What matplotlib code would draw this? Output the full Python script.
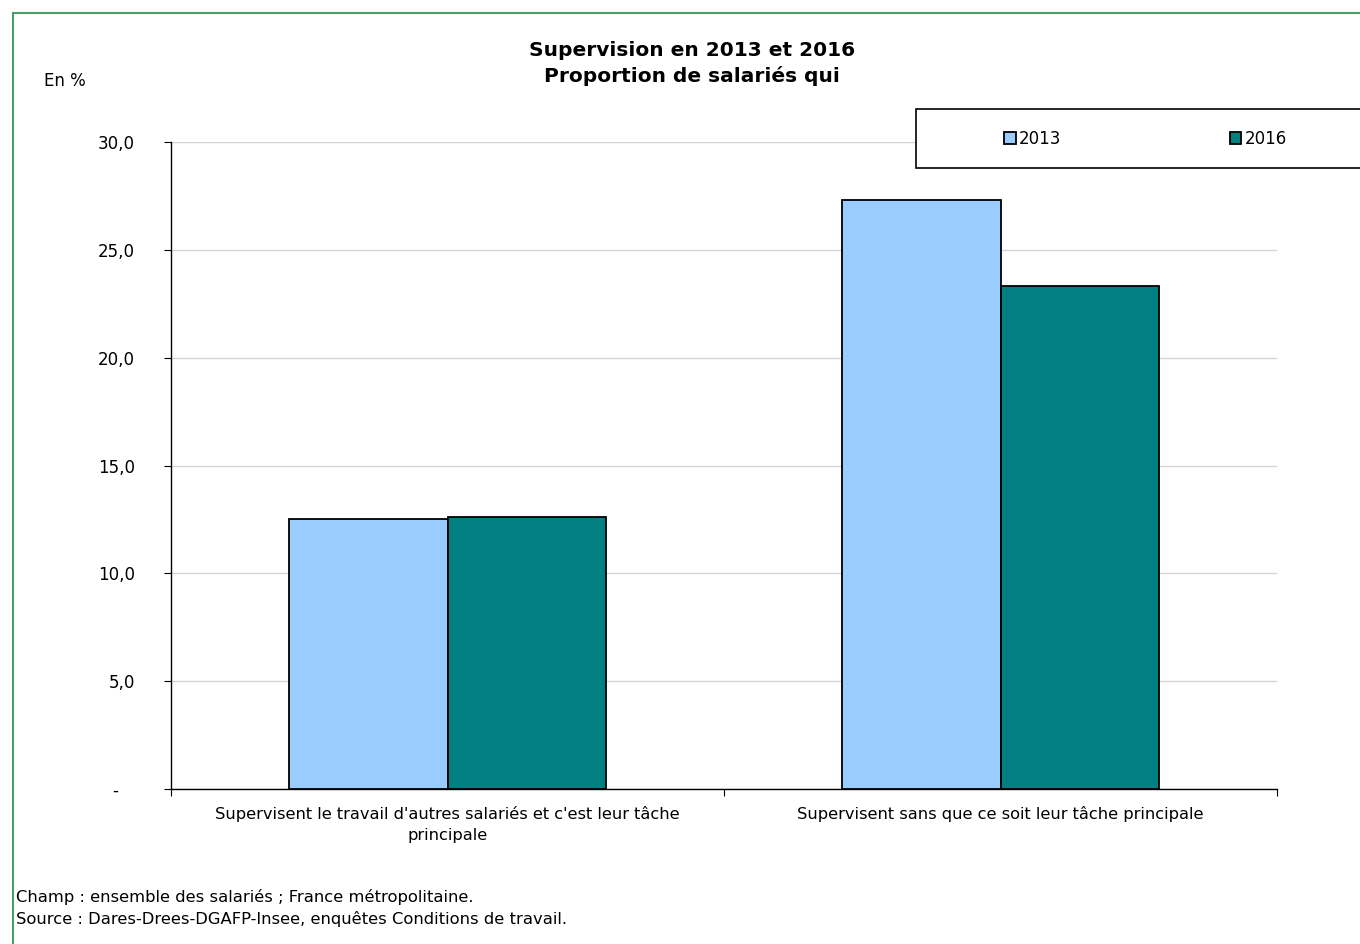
import matplotlib.pyplot as plt
from matplotlib.patches import Rectangle
import numpy as np

categories = ["Supervisent le travail d'autres salariés et c'est leur tâche\nprincipale",
              "Supervisent sans que ce soit leur tâche principale"]
vals_2013 = [12.5, 27.3]
vals_2016 = [12.6, 23.3]
series = ['2013', '2016']
yticks = [0, 5, 10, 15, 20, 25, 30]
ytick_labels = ['-   ', '5,0', '10,0', '15,0', '20,0', '25,0', '30,0']

plt.rcParams['font.family'] = 'DejaVu Sans'

fig = plt.figure(figsize=(13.6, 9.44), dpi=100)
ax = fig.add_axes([171/1360, 1 - 789/944, (1277-171)/1360, (789-142)/944])

x = np.arange(len(categories))
w = 0.286
b1 = ax.bar(x - w/2, vals_2013, w, color='#99CCFF', edgecolor='black', linewidth=1.3, label=series[0], zorder=3)
b2 = ax.bar(x + w/2, vals_2016, w, color='#008080', edgecolor='black', linewidth=1.3, label=series[1], zorder=3)

ax.set_xlim(-0.5, 1.5)
ax.set_ylim(0, 30)
ax.set_yticks(yticks)
ax.set_yticklabels(ytick_labels, fontsize=12)
ax.yaxis.grid(True, color='#d4d4d4', linewidth=1, zorder=0)
ax.set_axisbelow(True)
ax.tick_params(axis='y', length=5, pad=21, colors='black')
ax.set_xticks([-0.5, 0.5, 1.5])
ax.set_xticklabels([])
ax.set_xticks(x, minor=True)
ax.set_xticklabels(categories, minor=True, fontsize=11.7, linespacing=1.45)
ax.tick_params(axis='x', which='major', length=5)
ax.tick_params(axis='x', which='minor', length=0, pad=12.5)
for s in ['top', 'right']:
    ax.spines[s].set_visible(False)
ax.spines['left'].set_linewidth(1)
ax.spines['bottom'].set_linewidth(1)

fig.text(692/1360, 1 - 50/944, 'Supervision en 2013 et 2016', ha='center', va='center',
         fontsize=14.5, fontweight='bold')
fig.text(692/1360, 1 - 76/944, 'Proportion de salariés qui', ha='center', va='center',
         fontsize=14.5, fontweight='bold')
fig.text(44/1360, 1 - 81/944, 'En %', ha='left', va='center', fontsize=12)

# legend box
fig.patches.append(Rectangle((916/1360, 1 - 168/944), 0.5, 59/944, transform=fig.transFigure,
                             facecolor='white', edgecolor='black', linewidth=1.2))
leg = fig.legend(handles=[b1, b2], labels=series, loc='center left',
                 bbox_to_anchor=(1004/1360, 1 - 139/944), ncol=2, frameon=False,
                 fontsize=12, handlelength=0.7, handleheight=0.7, handletextpad=0.2,
                 columnspacing=10.1, borderpad=0, borderaxespad=0)

# green border
fig.add_artist(plt.Line2D([13/1360, 13/1360], [0, 1 - 13/944], color='#4a9e6e', linewidth=1.5,
                          transform=fig.transFigure))
fig.add_artist(plt.Line2D([13/1360, 1], [1 - 13/944, 1 - 13/944], color='#4a9e6e', linewidth=1.5,
                          transform=fig.transFigure))

fig.text(16/1360, 1 - 897/944, 'Champ : ensemble des salariés ; France métropolitaine.',
         ha='left', va='center', fontsize=11.8)
fig.text(16/1360, 1 - 919/944, 'Source : Dares-Drees-DGAFP-Insee, enquêtes Conditions de travail.',
         ha='left', va='center', fontsize=11.8)

fig.savefig('out.png', dpi=100)
